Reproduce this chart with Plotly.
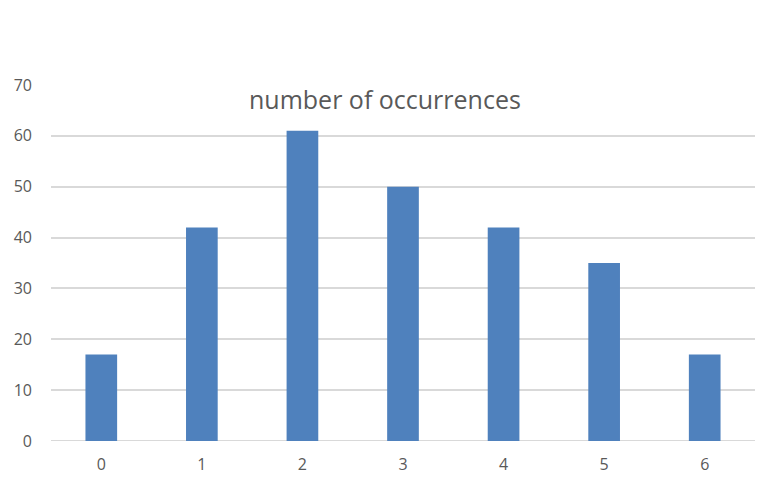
import plotly.graph_objects as go

categories = ["0", "1", "2", "3", "4", "5", "6"]
occurrences = [17, 42, 61, 50, 42, 35, 17]
y_ticks = [0, 10, 20, 30, 40, 50, 60, 70]
title_text = "number of occurrences"

fig = go.Figure()
fig.add_trace(go.Bar(
    x=categories, y=occurrences,
    marker=dict(color="#4f81bd", line=dict(width=0)),
    width=0.315,
))

font_family = "Open Sans, Liberation Sans, sans-serif"
fig.update_layout(
    width=782, height=491,
    margin=dict(l=43, r=35, t=77, b=58),
    paper_bgcolor="white", plot_bgcolor="white",
    showlegend=False,
    font=dict(family=font_family, color="#595959", size=16),
    xaxis=dict(type="category", showgrid=False, showline=False, zeroline=False,
               ticks="", ticklen=0, tickfont=dict(size=16, color="#595959"),
               range=[-0.5, 6.5], ticklabelstandoff=12, automargin=False),
    yaxis=dict(range=[0, 70], tickvals=y_ticks, showgrid=True, gridcolor="#d9d9d9",
               gridwidth=2, zeroline=False, showline=False, ticks="",
               tickfont=dict(size=16, color="#595959"), ticklabelstandoff=18,
               automargin=False),
    annotations=[dict(
        text=title_text, xref="paper", yref="paper", x=0.474, y=0.962,
        xanchor="center", yanchor="middle", showarrow=False,
        font=dict(size=25, color="#595959", family=font_family),
    )],
)
fig.add_shape(type="line", xref="paper", yref="y", x0=0, x1=1, y0=0, y1=0,
              line=dict(color="#d9d9d9", width=2), layer="below")

fig.write_html("out.html")
